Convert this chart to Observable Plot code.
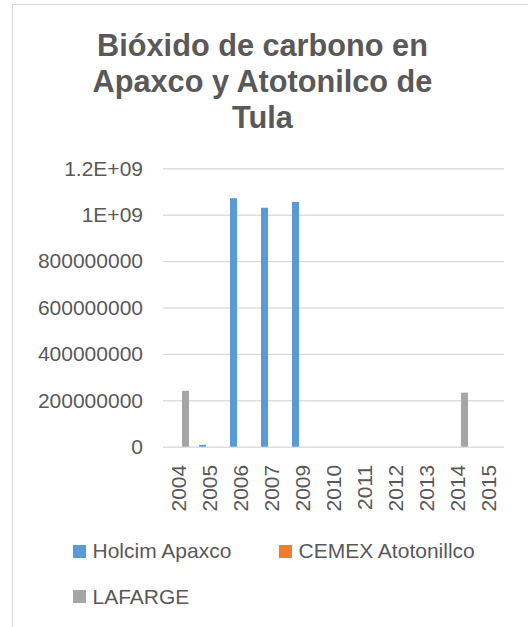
<!DOCTYPE html>
<html>
<head>
<meta charset="utf-8">
<script src="https://cdn.jsdelivr.net/npm/d3@7"></script>
<script src="https://cdn.jsdelivr.net/npm/@observablehq/plot@0.6"></script>
<style>
  html, body { margin: 0; padding: 0; background: #fff; }
  body { width: 528px; height: 627px; position: relative; overflow: hidden; font-family: "Liberation Sans", Arial, sans-serif; }
  #frame { position: absolute; left: 12px; top: 4px; width: 600px; height: 700px; border-left: 1px solid #d9d9d9; border-top: 1px solid #d9d9d9; }
  #title { position: absolute; left: 0; width: 525px; top: 28px; text-align: center; font-weight: bold; font-size: 30.7px; line-height: 35.8px; color: #595959; }
  #chart { position: absolute; left: 0; top: 140px; }
  .leg { position: absolute; font-size: 21px; color: #595959; white-space: nowrap; display: flex; align-items: center; line-height: 24px; }
  .leg .sw { width: 13px; height: 13px; margin-right: 6.5px; display: inline-block; }
</style>
</head>
<body>
<div id="frame"></div>
<div id="title">Bióxido de carbono en<br>Apaxco y Atotonilco de<br>Tula</div>
<div id="chart"></div>
<div id="legend"></div>
<script>
const years = ["2004","2005","2006","2007","2009","2010","2011","2012","2013","2014","2015"];
const seriesNames = ["Holcim Apaxco", "CEMEX Atotonillco", "LAFARGE"];
const seriesColors = ["#5b9bd5", "#ed7d31", "#a5a5a5"];
const holcim  = [0, 8000000, 1071000000, 1030000000, 1055000000, 0, 0, 0, 0, 0, 0];
const cemex   = [0, 0, 0, 0, 0, 0, 0, 0, 0, 0, 0];
const lafarge = [241000000, 0, 0, 0, 0, 0, 0, 0, 0, 233000000, 0];
const yTicks = [0, 200000000, 400000000, 600000000, 800000000, 1000000000, 1200000000];
const yTickLabels = ["0", "200000000", "400000000", "600000000", "800000000", "1E+09", "1.2E+09"];

const seriesValues = [holcim, cemex, lafarge];
const rows = years.flatMap((yr, i) =>
  seriesNames.map((s, k) => ({year: yr, series: s, value: seriesValues[k][i]}))
);

const W = 528, mL = 162, mR = 23;
const padIn = 0.31, padOut = padIn / 2;
const step = (W - mL - mR) / (years.length - padIn + 2 * padOut);
const halfGap = step * padIn / 2 + 0.1;

const plot = Plot.plot({
  width: W,
  height: 390,
  marginLeft: mL,
  marginRight: mR,
  marginTop: 28.3,
  marginBottom: 83.3,
  style: {fontFamily: "'Liberation Sans', Arial, sans-serif", fontSize: "21px", color: "#595959", background: "transparent", overflow: "visible"},
  fx: {domain: years, paddingInner: padIn, paddingOuter: padOut, label: null, axis: null},
  x: {domain: seriesNames, padding: 0, axis: null},
  y: {domain: [0, 1200000000], axis: null},
  color: {domain: seriesNames, range: seriesColors},
  marks: [
    Plot.ruleY(yTicks, {y: d => d, stroke: "#d9d9d9", strokeWidth: 1.3, insetLeft: -halfGap, insetRight: -halfGap}),
    Plot.barY(rows, {fx: "year", x: "series", y: "value", fill: "series"}),
    Plot.axisY({ticks: yTicks, tickFormat: d => yTickLabels[yTicks.indexOf(d)], tickSize: 0, tickPadding: 25.5, label: null, fill: "#595959", facetAnchor: "left"}),
    Plot.axisFx({domain: years, anchor: "bottom", tickRotate: -90, tickSize: 0, tickPadding: 17.6, label: null, fill: "#595959"})
  ]
});
document.getElementById("chart").appendChild(plot);

const legend = document.getElementById("legend");
const legPos = [[73, 551], [279, 551], [73, 596.5]];
seriesNames.forEach((s, k) => {
  const el = document.createElement("div");
  el.className = "leg";
  el.style.left = legPos[k][0] + "px";
  el.style.top = (legPos[k][1] - 12) + "px";
  el.innerHTML = `<span class="sw" style="background:${seriesColors[k]}"></span><span>${s}</span>`;
  legend.appendChild(el);
});
</script>
</body>
</html>
